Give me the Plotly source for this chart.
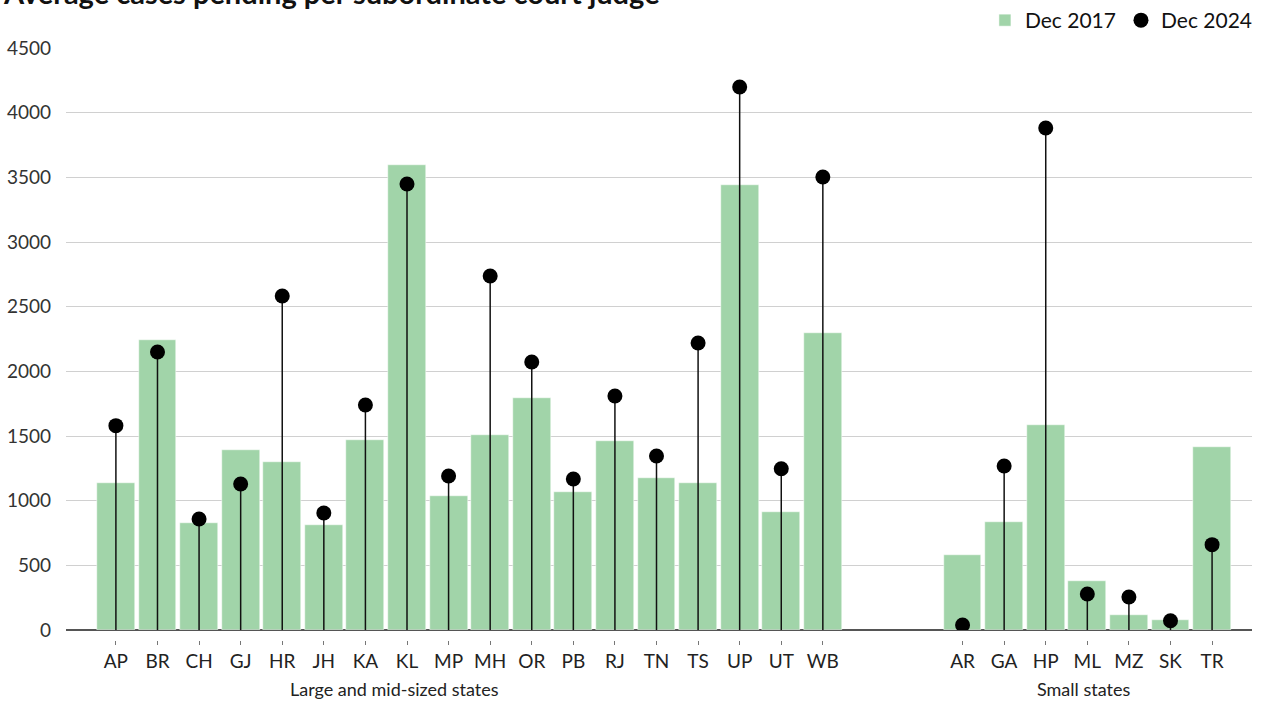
import plotly.graph_objects as go

# Average cases pending per subordinate court judge
large_states = ['AP', 'BR', 'CH', 'GJ', 'HR', 'JH', 'KA', 'KL', 'MP', 'MH',
                'OR', 'PB', 'RJ', 'TN', 'TS', 'UP', 'UT', 'WB']
large_2017 = [1137, 2242, 827, 1392, 1299, 812, 1469, 3595, 1036, 1508,
              1794, 1067, 1461, 1175, 1137, 3441, 912, 2296]
large_2024 = [1580, 2150, 858, 1129, 2583, 905, 1740, 3449, 1191, 2737,
              2072, 1168, 1809, 1345, 2219, 4199, 1247, 3503]

small_states = ['AR', 'GA', 'HP', 'ML', 'MZ', 'SK', 'TR']
small_2017 = [580, 835, 1585, 379, 116, 77, 1415]
small_2024 = [39, 1268, 3882, 278, 255, 72, 660]

# gap (in category units) between the two groups
GROUP_GAP = 3.36

x_large = list(range(len(large_states)))
x_small = [x_large[-1] + GROUP_GAP + i for i in range(len(small_states))]

x_all = x_large + x_small
labels = large_states + small_states
v2017 = large_2017 + small_2017
v2024 = large_2024 + small_2024

BAR_COLOR = '#a1d4a9'
FONT = 'Lato'

# plot area runs from the top of the page down to 640px; the y domain
# leaves 48px on top for title/legend and 10px under the zero line
PLOT_H = 640
Y_TOP, Y_BOTTOM = 48, 630

fig = go.Figure()

fig.add_trace(go.Bar(
    x=x_all,
    y=v2017,
    width=0.91,
    marker_color=BAR_COLOR,
    name='Dec 2017',
))

# lollipop: dot with a stem down to zero
fig.add_trace(go.Scatter(
    x=x_all,
    y=v2024,
    mode='markers',
    marker=dict(color='black', size=15),
    error_y=dict(type='data', symmetric=False, array=[0] * len(v2024),
                 arrayminus=v2024, width=0, color='#111111', thickness=1.5),
    name='Dec 2024',
))

# title sits partly above the page, as in the original
# (domain refs so it does not push the margins)
fig.add_annotation(text='<b>Average cases pending per subordinate court judge</b>',
                   x=-0.0548, y=1 + (Y_TOP + 7) / (Y_BOTTOM - Y_TOP),
                   xref='x domain', yref='y domain',
                   showarrow=False, xanchor='left', yanchor='middle',
                   font=dict(family=FONT, size=29, color='#111111'))

fig.add_annotation(text='Large and mid-sized states', x=0.2766, y=-49 / PLOT_H,
                   xref='paper', yref='paper', showarrow=False,
                   xanchor='center', yanchor='middle',
                   font=dict(family=FONT, size=18, color='#222222'))
fig.add_annotation(text='Small states', x=0.858, y=-49 / PLOT_H,
                   xref='paper', yref='paper', showarrow=False,
                   xanchor='center', yanchor='middle',
                   font=dict(family=FONT, size=18, color='#222222'))

fig.update_layout(
    width=1263,
    height=701,
    template='plotly_white',
    plot_bgcolor='white',
    paper_bgcolor='white',
    margin=dict(l=66, r=11, t=0, b=701 - PLOT_H),
    font=dict(family=FONT, color='#222222'),
    legend=dict(orientation='h', xref='paper', yref='paper',
                x=1.005, xanchor='right', y=1.0, yanchor='top',
                font=dict(family=FONT, size=21, color='#111111'),
                traceorder='normal'),
    bargap=0,
    showlegend=True,
)

fig.update_xaxes(
    range=[-1.2, x_small[-1] + 0.96],
    tickvals=x_all,
    ticktext=labels,
    anchor='free',
    position=0,
    automargin=False,
    showgrid=False,
    zeroline=False,
    showline=False,
    ticks='outside',
    ticklen=4,
    tickcolor='#777777',
    tickfont=dict(family=FONT, size=19, color='#222222'),
)

fig.update_yaxes(
    domain=[(PLOT_H - Y_BOTTOM) / PLOT_H, 1 - Y_TOP / PLOT_H],
    range=[0, 4500],
    tickvals=[0, 500, 1000, 1500, 2000, 2500, 3000, 3500, 4000, 4500],
    automargin=False,
    showgrid=True,
    gridcolor='#d0d0d0',
    gridwidth=1,
    zeroline=True,
    zerolinecolor='#555555',
    zerolinewidth=1.5,
    showline=False,
    ticks='',
    ticklabelstandoff=14,
    tickfont=dict(family=FONT, size=19, color='#333333'),
)

fig.write_html('out.html', config={'displayModeBar': False},
               post_script="document.body.style.margin='0';")
